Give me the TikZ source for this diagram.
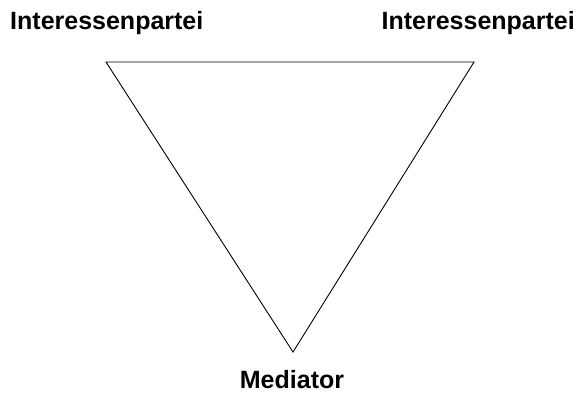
\documentclass[tikz,border=0pt]{standalone}
\usepackage{fontspec}
\setmainfont{Liberation Sans}
\begin{document}
\begin{tikzpicture}[x=1pt,y=-1pt,
  lbl/.style={font=\fontsize{25}{28}\selectfont\bfseries, inner sep=0pt, anchor=base west},
  edge/.style={draw=black, line width=0.9pt}]
\useasboundingbox (0,0) rectangle (578,394);
\coordinate (tl) at (106,62);
\coordinate (tr) at (474,62);
\coordinate (bt) at (293,352);
\draw[edge, line join=miter] (tl) -- (tr) -- (bt) -- cycle;
\node[lbl] (a) at (10,29) {Interessenpartei};
\node[lbl, anchor=base east] (b) at (575,29) {Interessenpartei};
\node[lbl, anchor=base, text depth=0pt] (m) at (292,388.5) {Mediator};
\end{tikzpicture}
\end{document}
